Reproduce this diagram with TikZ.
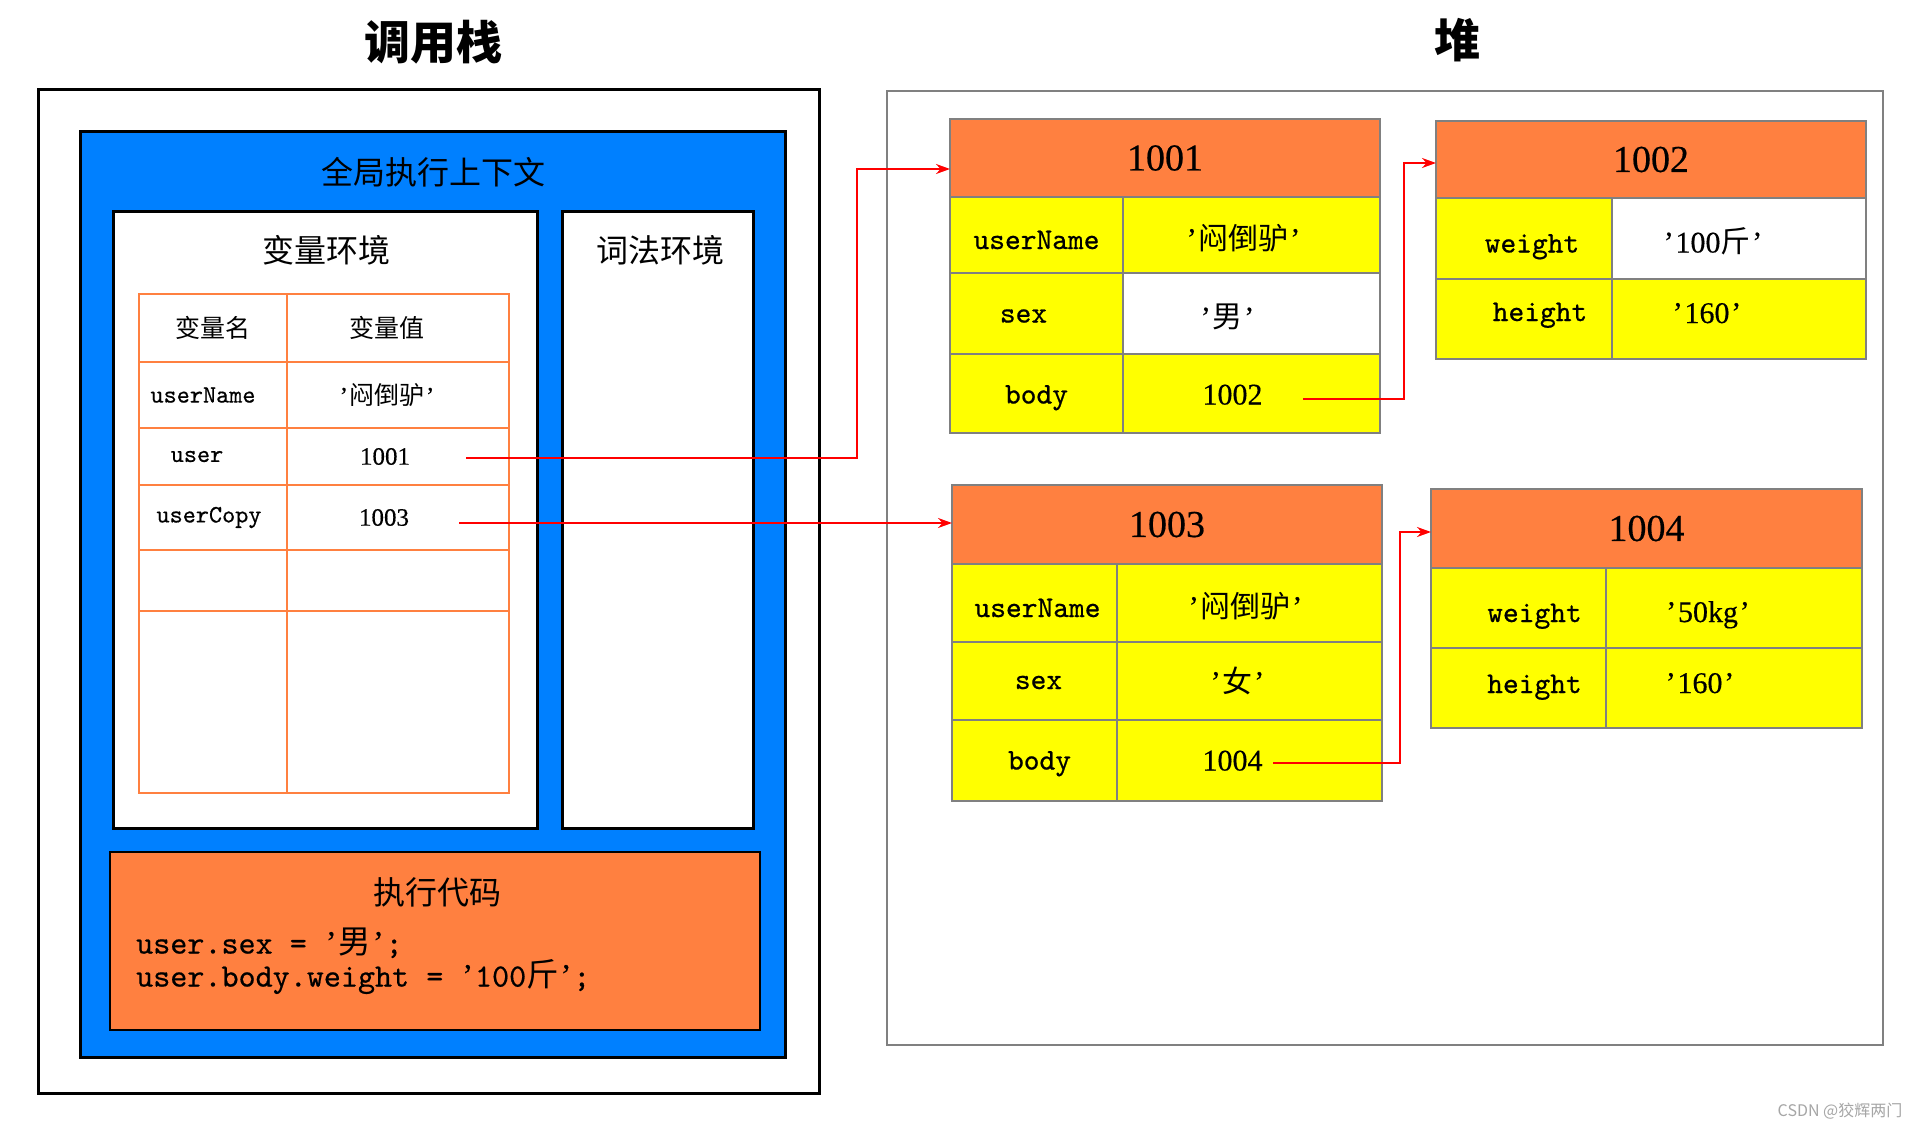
\documentclass[tikz,border=0pt]{standalone}
\usepackage{fontspec}
\setmainfont{Liberation Serif}
\newfontfamily\cjk{Noto Sans CJK SC}
\newfontfamily\monob[FakeBold=0.6]{lmmono10-regular.otf}
\newfontfamily\monom[FakeBold=0.5]{lmmono10-regular.otf}
\newfontfamily\numf[FakeBold=0.4]{Liberation Serif}
\usetikzlibrary{arrows.meta,calc}
\definecolor{ctxblue}{RGB}{0,128,255}
\definecolor{hdrorange}{RGB}{255,128,64}
\definecolor{tblorange}{RGB}{255,128,64}
\definecolor{cellyellow}{RGB}{255,255,0}
\definecolor{gridgray}{RGB}{128,128,128}
\newcommand\zh[1]{{\cjk #1}}
\newcommand\nm[1]{{\numf #1}}
\newcommand\qt{\makebox[0.45em][c]{\numf ’}}
% shift text left / right inside a centred cell (argument = twice the shift)
\newcommand\txl[2]{#2\hspace*{#1pt}}
\newcommand\txr[2]{\hspace*{#1pt}#2}
\newcommand\rz[2]{\raisebox{#1pt}{#2}}
\tikzset{
  box/.style={anchor=north west, inner sep=0pt, outer sep=0pt},
  frame/.style={box, draw=black, line width=3pt},
  hdr/.style={box, draw=gridgray, line width=2.5pt, fill=hdrorange, font=\numf\fontsize{38}{42}\selectfont},
  ycell/.style={box, draw=gridgray, line width=2.5pt, fill=cellyellow, font=\monob\fontsize{30}{36}\selectfont, text height=30pt, text depth=2pt},
  wcell/.style={ycell, fill=white},
  tcell/.style={box, draw=tblorange, line width=2pt, fill=white, font=\monom\fontsize{25}{30}\selectfont},
  lbl/.style={inner sep=0pt, font=\cjk\fontsize{32}{36}\selectfont},
  ttl/.style={inner sep=0pt, font=\cjk\bfseries\fontsize{46}{50}\selectfont},
  ptr/.style={draw=red, line width=2pt, -{Stealth[length=14pt,width=10pt]}},
}
\begin{document}
\begin{tikzpicture}[x=1pt,y=-1pt]
\useasboundingbox[fill=white] (0,0) rectangle (1923,1129);

% titles
\node[ttl] (ttlstack) at (433,42) {调用栈};
\node[ttl] (ttlheap) at (1457,40) {堆};

% call stack
\node[frame, minimum width=781pt, minimum height=1003pt] (stack) at (38,90) {};
\node[frame, fill=ctxblue, minimum width=705pt, minimum height=925pt] (ctx) at (80,132) {};
\node[lbl] (ctxlbl) at (433,172) {全局执行上下文};
\node[frame, fill=white, minimum width=424pt, minimum height=617pt] (varenv) at (113,211) {};
\node[lbl] (varlbl) at (326,250) {变量环境};
\node[frame, fill=white, minimum width=191pt, minimum height=617pt] (lexenv) at (562,211) {};
\node[lbl] (lexlbl) at (660,250) {词法环境};

% variable table
\node[tcell, minimum width=148pt, minimum height=68pt] (vk0) at (139,294) {\zh{变量名}};
\node[tcell, minimum width=222pt, minimum height=68pt] (vv0) at (287,294) {\txl{22}{\zh{变量值}}};
\node[tcell, minimum width=148pt, minimum height=66pt] (vk1) at (139,362) {\txl{20}{userName}};
\node[tcell, minimum width=222pt, minimum height=66pt] (vv1) at (287,362) {\txl{22}{\qt\zh{闷倒驴}\qt}};
\node[tcell, minimum width=148pt, minimum height=57pt] (vk2) at (139,428) {\txl{32}{user}};
\node[tcell, minimum width=222pt, minimum height=57pt] (vv2) at (287,428) {\txl{26}{\nm{1001}}};
\node[tcell, minimum width=148pt, minimum height=65pt] (vk3) at (139,485) {\txl{8}{userCopy}};
\node[tcell, minimum width=222pt, minimum height=65pt] (vv3) at (287,485) {\txl{28}{\nm{1003}}};
\node[tcell, minimum width=148pt, minimum height=61pt] (vk4) at (139,550) {};
\node[tcell, minimum width=222pt, minimum height=61pt] (vv4) at (287,550) {};
\node[tcell, minimum width=148pt, minimum height=182pt] (vk5) at (139,611) {};
\node[tcell, minimum width=222pt, minimum height=182pt] (vv5) at (287,611) {};

% code box
\node[box, draw=black, line width=2.5pt, fill=hdrorange, minimum width=650pt, minimum height=178pt] (codebox) at (110,852) {};
\node[lbl] (codelbl) at (437,892) {执行代码};
\node[anchor=west, inner sep=0pt, align=left, font=\monom\fontsize{32.5}{33}\selectfont] (code) at (136,961)
  {user.sex = \qt\zh{男}\qt;\\user.body.weight = \qt100\zh{斤}\qt;};

% heap
\node[box, draw=gridgray, line width=2pt, minimum width=996pt, minimum height=954pt] (heap) at (887,91) {};

% 1001
\node[hdr, minimum width=430pt, minimum height=78pt] (h1001) at (950,119) {1001};
\node[ycell, minimum width=173pt, minimum height=76pt] (a1k1) at (950,197) {userName};
\node[ycell, minimum width=257pt, minimum height=76pt] (a1v1) at (1123,197) {\txl{16}{\qt\zh{闷倒驴}\qt}};
\node[ycell, minimum width=173pt, minimum height=81pt] (a1k2) at (950,273) {\txl{26}{\rz{5}{sex}}};
\node[wcell, minimum width=257pt, minimum height=81pt] (a1v2) at (1123,273) {\txl{48}{\qt\zh{男}\qt}};
\node[ycell, minimum width=173pt, minimum height=79pt] (a1k3) at (950,354) {\rz{4}{body}};
\node[ycell, minimum width=257pt, minimum height=79pt] (a1v3) at (1123,354) {\txl{38}{\rz{3}{\nm{1002}}}};

% 1002
\node[hdr, minimum width=430pt, minimum height=77pt] (h1002) at (1436,121) {1002};
\node[ycell, minimum width=176pt, minimum height=81pt] (a2k1) at (1436,198) {\txr{16}{weight}};
\node[wcell, minimum width=254pt, minimum height=81pt] (a2v1) at (1612,198) {\txl{52}{\qt\nm{100}\zh{斤}\qt}};
\node[ycell, minimum width=176pt, minimum height=80pt] (a2k2) at (1436,279) {\txr{32}{\rz{12}{height}}};
\node[ycell, minimum width=254pt, minimum height=80pt] (a2v2) at (1612,279) {\txl{64}{\rz{10}{\qt\nm{160}\qt}}};

% 1003
\node[hdr, minimum width=430pt, minimum height=79pt] (h1003) at (952,485) {1003};
\node[ycell, minimum width=165pt, minimum height=78pt] (a3k1) at (952,564) {\txr{6}{userName}};
\node[ycell, minimum width=265pt, minimum height=78pt] (a3v1) at (1117,564) {\txl{8}{\qt\zh{闷倒驴}\qt}};
\node[ycell, minimum width=165pt, minimum height=78pt] (a3k2) at (952,642) {\txr{8}{\rz{6}{sex}}};
\node[ycell, minimum width=265pt, minimum height=78pt] (a3v2) at (1117,642) {\txl{24}{\rz{3}{\qt\zh{女}\qt}}};
\node[ycell, minimum width=165pt, minimum height=81pt] (a3k3) at (952,720) {\txr{10}{\rz{5}{body}}};
\node[ycell, minimum width=265pt, minimum height=81pt] (a3v3) at (1117,720) {\txl{34}{\rz{4}{\nm{1004}}}};

% 1004
\node[hdr, minimum width=431pt, minimum height=79pt] (h1004) at (1431,489) {1004};
\node[ycell, minimum width=175pt, minimum height=80pt] (a4k1) at (1431,568) {\txr{32}{weight}};
\node[ycell, minimum width=256pt, minimum height=80pt] (a4v1) at (1606,568) {\txl{52}{\qt\nm{50kg}\qt}};
\node[ycell, minimum width=175pt, minimum height=80pt] (a4k2) at (1431,648) {\txr{32}{\rz{9}{height}}};
\node[ycell, minimum width=256pt, minimum height=80pt] (a4v2) at (1606,648) {\txl{68}{\rz{9}{\qt\nm{160}\qt}}};

% pointers
\coordinate (s1) at (466,458);
\coordinate (s2) at (459,523);
\coordinate (s3) at (1303,399);
\coordinate (s4) at (1273,763);
\draw[ptr] (s1) -- ++(391,0) |- ([yshift=-11pt]h1001.west);
\draw[ptr] (s2) -- (s2 -| h1003.west);
\draw[ptr] (s3) -- ++(101,0) |- ([yshift=-3.5pt]h1002.west);
\draw[ptr] (s4) -- ++(127,0) |- ([yshift=-3.5pt]h1004.west);

% watermark
\node[inner sep=0pt, text=gray!70, font=\cjk\fontsize{16}{18}\selectfont] (wm) at (1840,1111) {CSDN @狡辉两门};
\end{tikzpicture}
\end{document}
